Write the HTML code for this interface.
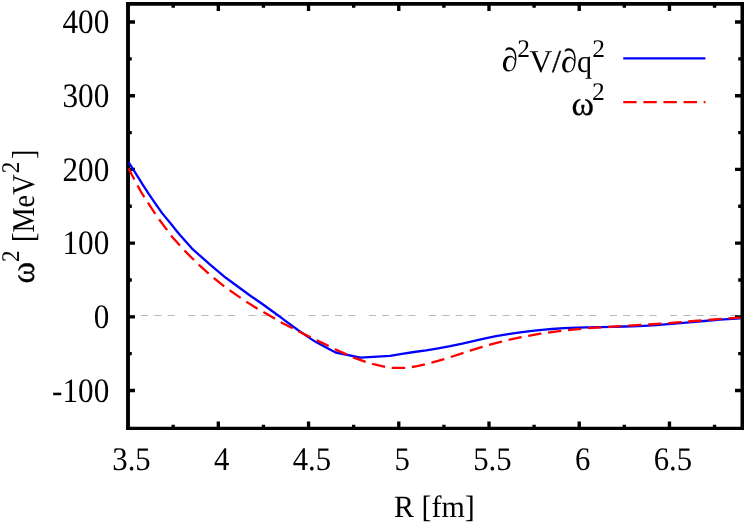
<!DOCTYPE html>
<html><head><meta charset="utf-8"><title>plot</title>
<style>
html,body{margin:0;padding:0;background:#fff;}
svg{display:block;will-change:transform;}
text{font-family:"Liberation Serif",serif;fill:#000;text-rendering:geometricPrecision;}
</style></head><body>
<svg width="747" height="524" viewBox="0 0 747 524">
<rect width="747" height="524" fill="#fff"/>

<path d="M127.9,315.5 H742" stroke="#b8b8b8" stroke-width="1" stroke-dasharray="7 6.25 7 6.25 7 6.25 7 13.5" fill="none"/>
<g stroke="#000" fill="none" stroke-linecap="butt">
<path d="M128,2.1 V430.05" stroke-width="3.9"/>
<path d="M742.25,2.1 V430.05" stroke-width="3.5"/>
<path d="M126.05,3.96 H744" stroke-width="3.7"/>
<path d="M126.05,428.35 H744" stroke-width="3.4"/>
</g>
<g stroke="#000" stroke-width="3.35" fill="none">
<path d="M218.32,428.45 V421.45 M218.32,3.96 V10.96"/>
<path d="M308.55,428.45 V421.45 M308.55,3.96 V10.96"/>
<path d="M398.77,428.45 V421.45 M398.77,3.96 V10.96"/>
<path d="M489.00,428.45 V421.45 M489.00,3.96 V10.96"/>
<path d="M579.23,428.45 V421.45 M579.23,3.96 V10.96"/>
<path d="M669.45,428.45 V421.45 M669.45,3.96 V10.96"/>
<path d="M173.21,428.45 V424.65 M173.21,3.96 V7.76"/>
<path d="M263.44,428.45 V424.65 M263.44,3.96 V7.76"/>
<path d="M353.66,428.45 V424.65 M353.66,3.96 V7.76"/>
<path d="M443.89,428.45 V424.65 M443.89,3.96 V7.76"/>
<path d="M534.11,428.45 V424.65 M534.11,3.96 V7.76"/>
<path d="M624.34,428.45 V424.65 M624.34,3.96 V7.76"/>
<path d="M714.56,428.45 V424.65 M714.56,3.96 V7.76"/>
<path d="M128,390.49 H135 M742,390.49 H735"/>
<path d="M128,316.80 H135 M742,316.80 H735"/>
<path d="M128,243.11 H135 M742,243.11 H735"/>
<path d="M128,169.42 H135 M742,169.42 H735"/>
<path d="M128,95.73 H135 M742,95.73 H735"/>
<path d="M128,22.04 H135 M742,22.04 H735"/>
<path d="M128,353.64 H131.8 M742,353.64 H738.2"/>
<path d="M128,279.96 H131.8 M742,279.96 H738.2"/>
<path d="M128,206.27 H131.8 M742,206.27 H738.2"/>
<path d="M128,132.58 H131.8 M742,132.58 H738.2"/>
<path d="M128,58.89 H131.8 M742,58.89 H738.2"/>
</g>
<clipPath id="c"><rect x="128" y="4" width="614" height="424"/></clipPath>
<g clip-path="url(#c)" fill="none" stroke-linejoin="round">
<path d="M128.7,162.3 L135.4,172.8 L142.1,183.7 L148.7,193.9 L155.4,203.7 L162.1,213.1 L166.4,218.4 L171.5,224.6 L176.2,230.5 L180.0,235.1 L192.0,248.6 L210.1,264.6 L225.8,277.8 L240.8,288.7 L250.0,295.5 L262.0,303.7 L274.1,312.5 L280.1,316.9 L286.1,321.4 L298.2,330.3 L310.2,338.4 L315.1,341.6 L327.1,347.9 L335.7,352.5 L360.4,357.6 L389.9,355.8 L402.0,353.8 L414.1,352.0 L426.1,350.3 L438.2,348.3 L450.2,346.1 L462.3,343.6 L474.3,340.8 L484.1,338.6 L496.1,336.2 L508.2,334.1 L520.2,332.3 L532.3,330.8 L544.3,329.6 L552.0,329.0 L564.1,328.2 L576.1,327.7 L588.2,327.3 L600.2,327.1 L612.3,326.8 L624.3,326.5 L632.0,326.3 L644.1,325.8 L656.1,325.1 L668.2,324.2 L680.2,323.1 L692.3,322.1 L704.3,321.0 L720.0,319.7 L740.4,318.3" stroke="#0000ff" stroke-width="2.3"/>
<path d="M128.7,168.5 L132.1,175.3 L141.1,192.0 L152.1,209.1 L159.4,219.8 L172.2,236.9 L184.8,250.9 L194.5,260.5 L199.3,265.2 L208.9,273.9 L214.3,278.4 L224.6,286.8 L237.0,295.4 L250.0,304.1 L257.8,308.9 L263.9,312.3 L275.3,318.9 L281.3,322.4 L292.8,328.3 L298.8,331.4 L310.8,337.4 L316.9,340.4 L329.0,346.2 L335.1,349.2 L347.1,354.7 L353.7,357.6 L365.8,361.9 L372.4,363.9 L385.7,367.0 L392.0,367.8 L398.5,367.9 L405.2,367.9 L411.9,367.0 L417.1,366.1 L424.9,364.4 L431.6,362.7 L444.2,359.1 L450.8,357.0 L463.5,352.9 L470.1,350.7 L482.3,346.9 L488.9,345.0 L501.6,341.6 L508.2,340.0 L521.4,337.2 L528.4,335.8 L540.7,333.7 L547.8,332.6 L561.1,330.9 L568.0,330.1 L581.0,328.8 L588.0,328.2 L600.8,327.3 L608.1,326.8 L621.0,326.1 L628.0,325.7 L641.1,324.9 L648.0,324.5 L661.0,323.7 L668.0,323.2 L680.8,322.1 L688.1,321.5 L701.0,320.5 L708.0,319.9 L721.1,318.9 L728.0,318.4 L740.4,317.7" stroke="#ff0000" stroke-width="2.3" stroke-dasharray="13.4 6.7" stroke-dashoffset="0.97"/>
</g>
<path d="M623.25,58.4 H705.4" stroke="#0000ff" stroke-width="2.2"/>
<path d="M623.25,102.1 H705.4" stroke="#ff0000" stroke-width="2.15" stroke-dasharray="13.4 6.7"/>
<text transform="translate(109.30,401.69) rotate(0) skewX(0) scale(1.04,1.14)" font-size="30" text-anchor="end" >-100</text>
<text transform="translate(109.30,328.00) rotate(0) skewX(0) scale(1.04,1.14)" font-size="30" text-anchor="end" >0</text>
<text transform="translate(109.30,254.31) rotate(0) skewX(0) scale(1.04,1.14)" font-size="30" text-anchor="end" >100</text>
<text transform="translate(109.30,180.62) rotate(0) skewX(0) scale(1.04,1.14)" font-size="30" text-anchor="end" >200</text>
<text transform="translate(109.30,106.93) rotate(0) skewX(0) scale(1.04,1.14)" font-size="30" text-anchor="end" >300</text>
<text transform="translate(109.30,33.24) rotate(0) skewX(0) scale(1.04,1.14)" font-size="30" text-anchor="end" >400</text>
<text transform="translate(131.50,470.00) rotate(0) skewX(0) scale(1.025,1.1)" font-size="30" text-anchor="middle" >3.5</text>
<text transform="translate(221.72,470.00) rotate(0) skewX(0) scale(1.025,1.1)" font-size="30" text-anchor="middle" >4</text>
<text transform="translate(311.95,470.00) rotate(0) skewX(0) scale(1.025,1.1)" font-size="30" text-anchor="middle" >4.5</text>
<text transform="translate(402.17,470.00) rotate(0) skewX(0) scale(1.025,1.1)" font-size="30" text-anchor="middle" >5</text>
<text transform="translate(492.40,470.00) rotate(0) skewX(0) scale(1.025,1.1)" font-size="30" text-anchor="middle" >5.5</text>
<text transform="translate(582.62,470.00) rotate(0) skewX(0) scale(1.025,1.1)" font-size="30" text-anchor="middle" >6</text>
<text transform="translate(672.85,470.00) rotate(0) skewX(0) scale(1.025,1.1)" font-size="30" text-anchor="middle" >6.5</text>
<text transform="translate(434.30,517.00) rotate(0) skewX(0) scale(1.0,1.03)" font-size="30" text-anchor="middle" >R [fm]</text>
<text transform="translate(34.00,283.50) rotate(-90) skewX(0) scale(1.09,1.13)" font-size="30" text-anchor="start" stroke="#000" stroke-width="0.25">ω</text>
<text transform="translate(19.00,262.10) rotate(-90) skewX(0) scale(0.96,1.06)" font-size="24" text-anchor="start" >2</text>
<text transform="translate(34.00,242.00) rotate(-90) skewX(0) scale(0.944,1.058)" font-size="30" text-anchor="start" >[MeV</text>
<text transform="translate(19.00,173.20) rotate(-90) skewX(0) scale(0.96,1.06)" font-size="24" text-anchor="start" >2</text>
<text transform="translate(34.00,159.00) rotate(-90) skewX(0) scale(0.944,1.058)" font-size="30" text-anchor="start" >]</text>
<text transform="translate(502.30,71.10) rotate(0) skewX(5) scale(1.13,1.1)" font-size="30" text-anchor="start" >∂</text>
<text transform="translate(517.30,56.60) rotate(0) skewX(0) scale(1.06,1.06)" font-size="24" text-anchor="start" >2</text>
<text transform="translate(529.20,71.90) rotate(0) skewX(0) scale(1.063,1.063)" font-size="30" text-anchor="start" >V</text>
<text transform="translate(552.00,71.50) rotate(0) skewX(0) scale(1.08,1.063)" font-size="30" text-anchor="start" stroke="#000" stroke-width="0.3">/</text>
<text transform="translate(561.50,71.90) rotate(0) skewX(5) scale(1.13,1.1)" font-size="30" text-anchor="start" >∂</text>
<text transform="translate(577.00,71.50) rotate(0) skewX(0) scale(1.0,1.063)" font-size="30" text-anchor="start" >q</text>
<text transform="translate(592.20,56.60) rotate(0) skewX(0) scale(1.06,1.06)" font-size="24" text-anchor="start" >2</text>
<text transform="translate(571.40,115.30) rotate(0) skewX(0) scale(1.14,1.13)" font-size="30" text-anchor="start" stroke="#000" stroke-width="0.25">ω</text>
<text transform="translate(592.00,100.00) rotate(0) skewX(0) scale(1.06,1.06)" font-size="24" text-anchor="start" >2</text>
</svg></body></html>
